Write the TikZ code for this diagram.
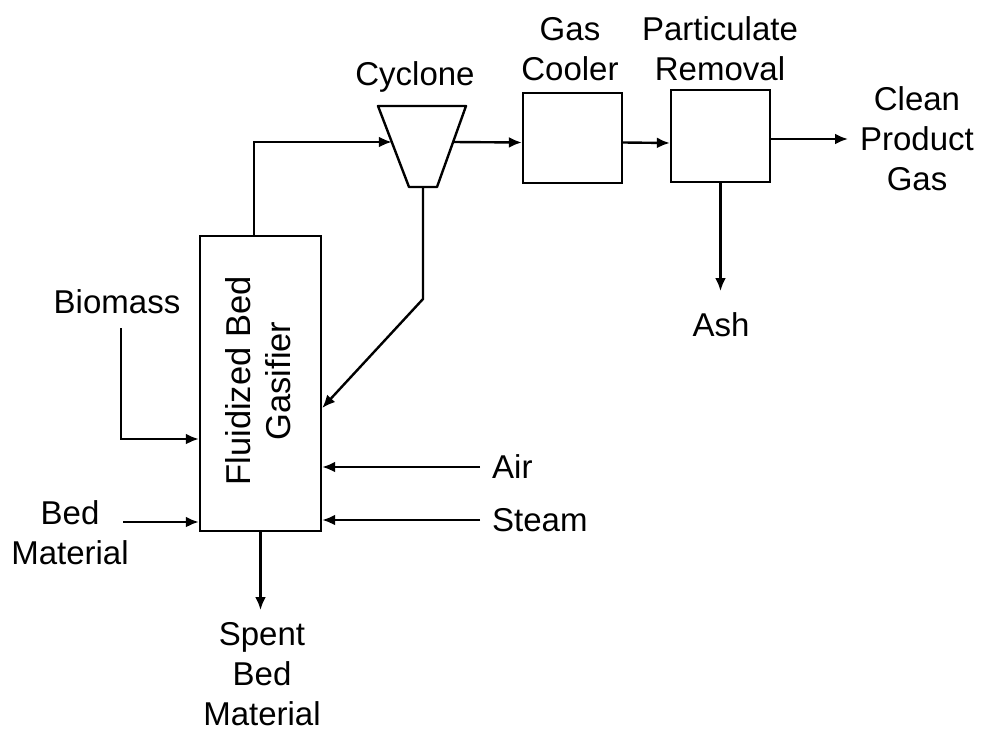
\documentclass[tikz,border=0pt]{standalone}
\usepackage{fontspec}
\setmainfont{Liberation Sans}
\usetikzlibrary{arrows.meta}
\begin{document}
\begin{tikzpicture}[x=1pt,y=-1pt,
  every node/.style={font=\fontsize{33}{40}\selectfont, align=center, inner sep=0pt},
  unit/.style={draw, line width=2.4pt},
  arr/.style={line width=2.4pt, -{Latex[length=13pt,width=11pt]}},
  ln/.style={line width=2.4pt, line join=round}]
\useasboundingbox (0,0) rectangle (982,733);
% units
\node[unit, minimum width=121pt, minimum height=295pt] (gas) at (260.5,383.5) {};
\node[rotate=90, font=\fontsize{34.5}{40}\selectfont] (gastxt) at (258,381) {Fluidized Bed\\Gasifier};
\node[unit, minimum width=99pt, minimum height=90pt] (cool) at (572.5,138) {};
\node[unit, minimum width=99pt, minimum height=92pt] (part) at (720.5,136) {};
% cyclone (trapezoid)
\coordinate (cycTL) at (378,106);
\coordinate (cycTR) at (466,106);
\coordinate (cycBR) at (437,187);
\coordinate (cycBL) at (409,187);
\draw[ln] (cycTL) -- (cycTR) -- (cycBR) -- (cycBL) -- cycle;
\coordinate (cycin) at (391.8,142);
\coordinate (cycout) at (453,142);
\coordinate (cycbot) at (423,187);
% labels
\node (lcyc) at (415,77) {Cyclone};
\node (lcool) at (570,49) {Gas\\Cooler};
\node (lpart) at (720,49) {Particulate\\Removal};
\node (lclean) at (917,139) {Clean\\Product\\Gas};
\node (lash) at (721,325) {Ash};
\node (lbio) at (117,302) {Biomass};
\node (lbed) at (70,533) {Bed\\Material};
\node[anchor=west] (lair) at (492,467) {Air};
\node[anchor=west] (lsteam) at (492,520) {Steam};
\node (lspent) at (262,674) {Spent\\Bed\\Material};
% free ends
\coordinate (biotop) at (121,328);
\coordinate (bedend) at (123,522);
\coordinate (airend) at (480,467);
\coordinate (steamend) at (480,520);
\coordinate (ret) at (423,299);
\coordinate (cleanend) at (848,139);
\coordinate (ashend) at (720.5,291);
\coordinate (spentend) at (260.5,610);
% connectors
\draw[arr] ([xshift=-6.5pt]gas.north) |- (cycin);
\draw[arr] (cycout) -- ([yshift=-4.5pt]cool.west);
\draw[arr] ([yshift=-4.5pt]cool.east) -- ([yshift=-7pt]part.west);
\draw[arr] ([yshift=-3pt]part.east) -- (cleanend);
\draw[arr] (part.south) -- (ashend);
\draw[arr] (cycbot) -- (ret) -- ([yshift=-24.5pt]gas.east);
\draw[arr] (biotop) |- ([yshift=-55.5pt]gas.west);
\draw[arr] (bedend) -- ([yshift=-138.5pt]gas.west);
\draw[arr] (airend) -- ([yshift=-83.5pt]gas.east);
\draw[arr] (steamend) -- ([yshift=-136.5pt]gas.east);
\draw[arr] (gas.south) -- (spentend);
\end{tikzpicture}
\end{document}
